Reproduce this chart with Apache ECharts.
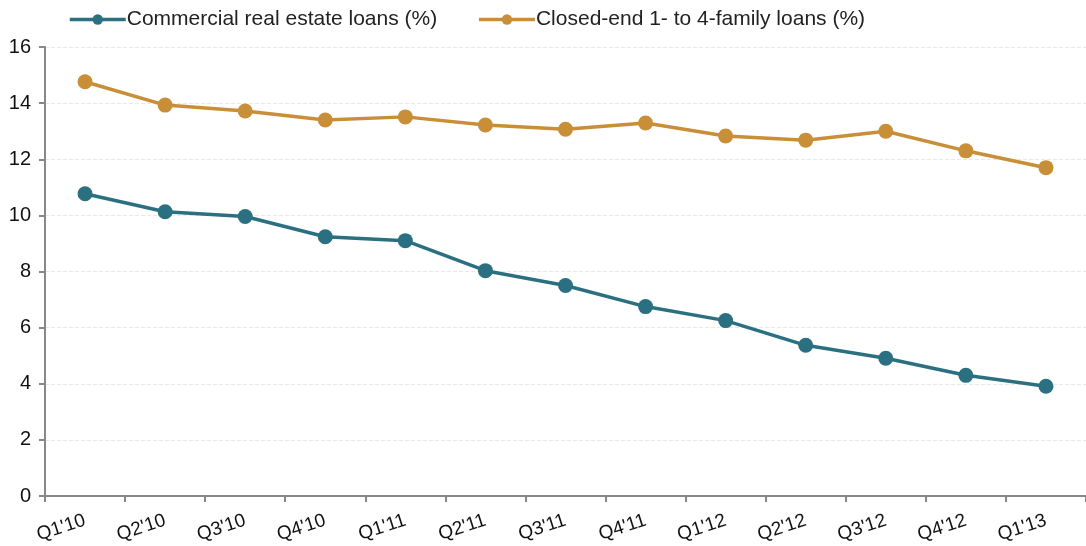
<!DOCTYPE html>
<html>
<head>
    <meta charset="utf-8">
    <title>ECharts</title>
    <script src="https://cdn.jsdelivr.net/npm/echarts@6/dist/echarts.min.js"></script>
    <style>html,body{margin:0;padding:0;background:#fff;}</style>
</head>
<body>
<div id="main" style="width:1086px;height:546px;"></div>
<script type="text/javascript">
    var quarters = ["Q1'10", "Q2'10", "Q3'10", "Q4'10", "Q1'11", "Q2'11", "Q3'11", "Q4'11", "Q1'12", "Q2'12", "Q3'12", "Q4'12", "Q1'13"];
    var commercialRE = [10.77, 10.13, 9.96, 9.24, 9.10, 8.03, 7.50, 6.75, 6.25, 5.37, 4.91, 4.30, 3.91];
    var closedEnd = [14.76, 13.93, 13.72, 13.40, 13.51, 13.22, 13.07, 13.29, 12.83, 12.68, 13.00, 12.30, 11.70];
    var yTicks = [0, 2, 4, 6, 8, 10, 12, 14, 16];

    var myChart = echarts.init(document.getElementById('main'));

    var font = "'Liberation Sans', Arial, sans-serif";

    var option = {
        animation: false,
        backgroundColor: '#fff',
        textStyle: { fontFamily: font },
        legend: {
            top: 4,
            left: 63,
            itemWidth: 56,
            itemHeight: 13,
            itemGap: 40,
            lineStyle: { width: 3.5 },
            textStyle: { fontSize: 21, color: '#222', padding: [0, 0, 0, -4], fontFamily: font },
            data: ['Commercial real estate loans (%)', 'Closed-end 1- to 4-family loans (%)']
        },
        grid: { left: 45, right: 0, top: 47, bottom: 50, containLabel: false },
        xAxis: {
            type: 'category',
            data: quarters,
            boundaryGap: true,
            axisLine: { lineStyle: { color: '#888', width: 2 } },
            axisTick: { show: true, length: 6, lineStyle: { color: '#888', width: 2 } },
            axisLabel: { color: '#111', fontSize: 19, rotate: 18, margin: 24, fontFamily: font }
        },
        yAxis: {
            type: 'value',
            min: yTicks[0],
            max: yTicks[yTicks.length - 1],
            interval: 2,
            axisLine: { show: true, lineStyle: { color: '#888', width: 2 } },
            axisTick: { show: true, length: 6, lineStyle: { color: '#888', width: 2 } },
            axisLabel: { color: '#111', fontSize: 20, margin: 14, fontFamily: font },
            splitLine: { show: true, lineStyle: { color: '#e8e8e8', type: 'dashed', width: 1 } }
        },
        series: [{
            name: 'Commercial real estate loans (%)',
            type: 'line',
            data: commercialRE,
            symbol: 'circle',
            symbolSize: 15,
            color: '#2b7080',
            lineStyle: { width: 3.5, color: '#2b7080' },
            itemStyle: { color: '#2b7080' }
        }, {
            name: 'Closed-end 1- to 4-family loans (%)',
            type: 'line',
            data: closedEnd,
            symbol: 'circle',
            symbolSize: 15,
            color: '#c98e38',
            lineStyle: { width: 3.5, color: '#c98e38' },
            itemStyle: { color: '#c98e38' }
        }]
    };

    myChart.setOption(option);
</script>
</body>
</html>
